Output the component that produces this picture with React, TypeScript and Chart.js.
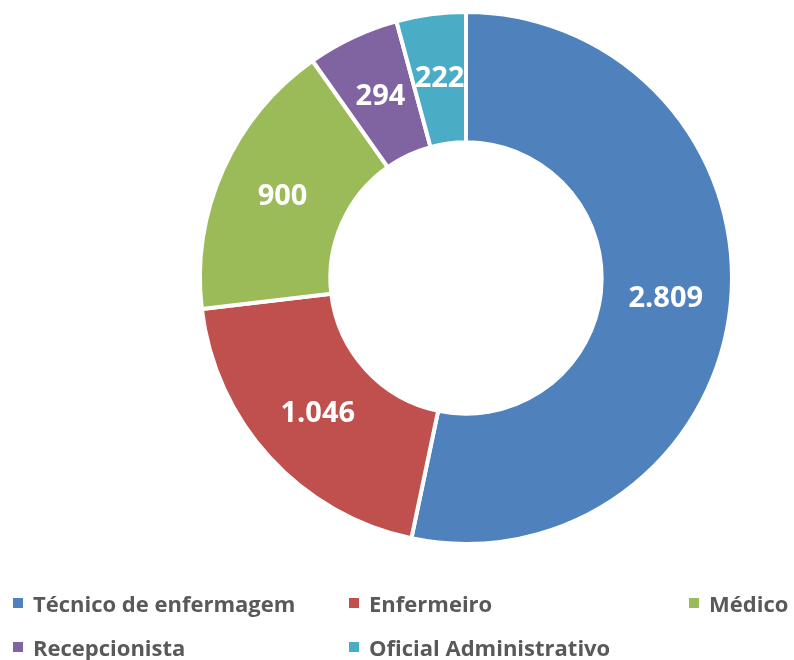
import React, { useEffect, useRef } from "react";
import { Chart, registerables } from "chart.js";

Chart.register(...registerables);

const categories = ["Técnico de enfermagem", "Enfermeiro", "Médico", "Recepcionista", "Oficial Administrativo"];
const values = [2809, 1046, 900, 294, 222];
const valueLabels = ["2.809", "1.046", "900", "294", "222"];
const colors = ["#4F81BD", "#C0504D", "#9BBB59", "#8064A2", "#4BACC6"];

const legendPos = [
  { left: 13, top: 603 },
  { left: 349, top: 603 },
  { left: 689, top: 603 },
  { left: 13, top: 647 },
  { left: 349, top: 647 },
];

const FONT = "'Open Sans', 'Noto Sans', sans-serif";

const labelPlugin = {
  id: "sliceLabels",
  afterDatasetsDraw(chart: any) {
    const ctx = chart.ctx;
    const meta = chart.getDatasetMeta(0);
    ctx.save();
    ctx.fillStyle = "#FFFFFF";
    ctx.font = `bold 29px ${FONT}`;
    ctx.textAlign = "center";
    ctx.textBaseline = "middle";
    meta.data.forEach((arc: any, i: number) => {
      const p = arc.getProps(["startAngle", "endAngle", "innerRadius", "outerRadius", "x", "y"], true);
      const a = (p.startAngle + p.endAngle) / 2;
      const r = (p.innerRadius + p.outerRadius) / 2;
      ctx.fillText(valueLabels[i], p.x + Math.cos(a) * r, p.y + Math.sin(a) * r);
    });
    ctx.restore();
  },
};

export default function App() {
  const ref = useRef<HTMLCanvasElement>(null);
  useEffect(() => {
    if (!ref.current) return;
    const chart = new Chart(ref.current, {
      type: "doughnut",
      data: {
        labels: categories,
        datasets: [
          {
            data: values,
            backgroundColor: colors,
            borderColor: "#FFFFFF",
            borderWidth: 4,
            hoverOffset: 0,
          },
        ],
      },
      options: {
        responsive: false,
        animation: false,
        cutout: "51%",
        layout: { padding: { left: 198, right: 60, top: 10, bottom: 114 } },
        plugins: {
          legend: { display: false },
          tooltip: { enabled: false },
        },
      },
      plugins: [labelPlugin],
    });
    return () => chart.destroy();
  }, []);

  return (
    <div style={{ position: "fixed", left: 0, top: 0, width: 794, height: 660, background: "#FFFFFF", overflow: "hidden" }}>
      <canvas ref={ref} width={794} height={660} style={{ position: "absolute", left: 0, top: 0 }} />
      {categories.map((c, i) => (
        <div
          key={c}
          style={{
            position: "absolute",
            left: legendPos[i].left,
            top: legendPos[i].top,
            transform: "translateY(-50%)",
            display: "flex",
            alignItems: "center",
            whiteSpace: "nowrap",
            fontFamily: FONT,
            fontWeight: 700,
            fontSize: 22,
            color: "#595959",
          }}
        >
          <span style={{ display: "inline-block", width: 10, height: 10, background: colors[i], marginRight: 10 }} />
          <span>{c}</span>
        </div>
      ))}
    </div>
  );
}
